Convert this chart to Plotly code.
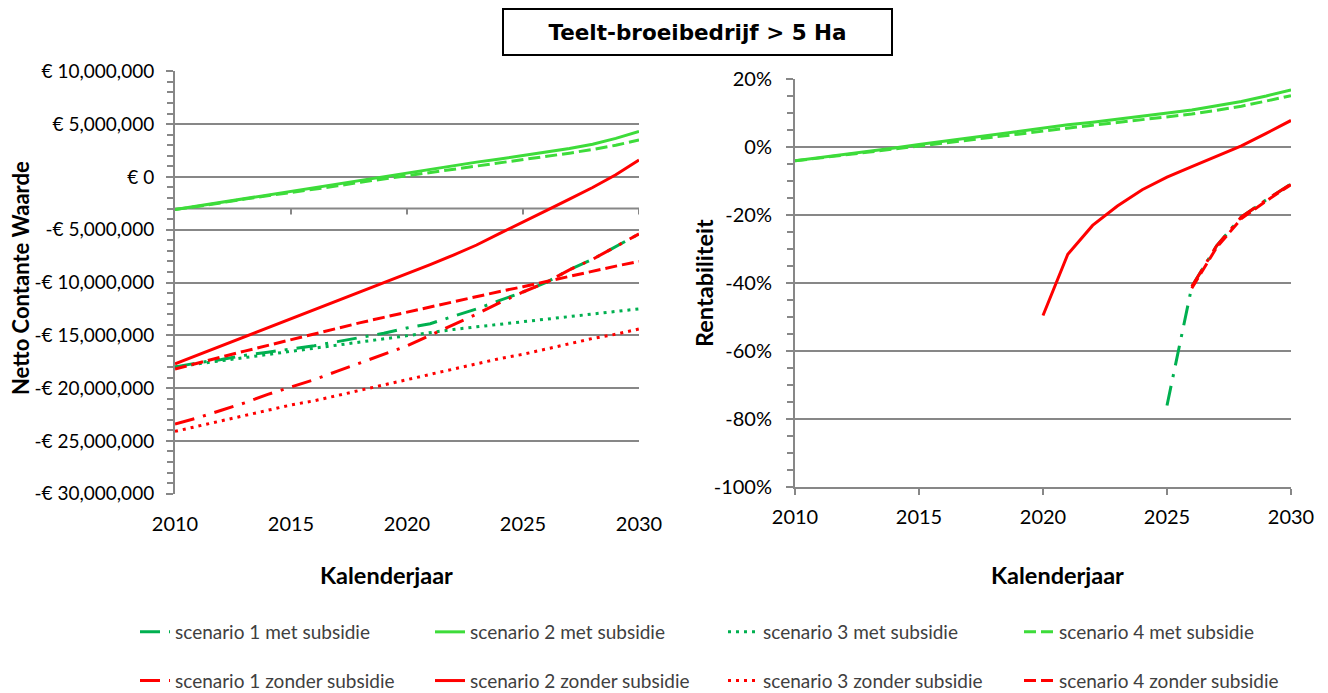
"""Teelt-broeibedrijf > 5 Ha: NCW en rentabiliteit per scenario."""

import plotly.graph_objects as go

# the page body adds an 8px margin, so the figure is a bit smaller than the window
PAGE_PAD = 8
W, H = 1328 - PAGE_PAD, 693 - PAGE_PAD

years = list(range(2010, 2031))
year_ticks = [2010, 2015, 2020, 2025, 2030]

# Netto Contante Waarde, in miljoen euro
ncw_s1_met = [-18.0, -17.6, -17.3, -16.9, -16.6, -16.3, -16.0, -15.6, -15.2, -14.8, -14.3,
              -13.9, -13.2, -12.5, -11.7, -10.9, -10.0, -8.8, -7.8, -6.6, -5.4]
ncw_s2_met = [-3.1, -2.75, -2.4, -2.05, -1.7, -1.35, -1.0, -0.65, -0.3, 0.05, 0.4,
              0.75, 1.05, 1.4, 1.7, 2.0, 2.35, 2.7, 3.1, 3.65, 4.3]
ncw_s3_met = [-18.0, -17.7, -17.4, -17.1, -16.8, -16.5, -16.2, -15.9, -15.6, -15.3, -15.0,
              -14.7, -14.45, -14.2, -13.95, -13.7, -13.45, -13.2, -12.95, -12.7, -12.5]
ncw_s4_met = [-3.1, -2.8, -2.45, -2.1, -1.8, -1.45, -1.15, -0.85, -0.5, -0.2, 0.1,
              0.4, 0.7, 1.0, 1.3, 1.6, 1.9, 2.25, 2.6, 3.0, 3.5]
ncw_s1_zonder = [-23.4, -22.8, -22.1, -21.4, -20.6, -19.9, -19.2, -18.4, -17.6, -16.8, -16.0,
                 -15.0, -14.0, -13.0, -11.9, -10.9, -10.0, -8.8, -7.8, -6.6, -5.4]
ncw_s2_zonder = [-17.7, -16.85, -16.0, -15.1, -14.25, -13.4, -12.55, -11.7, -10.9, -10.05, -9.2,
                 -8.3, -7.4, -6.45, -5.35, -4.3, -3.2, -2.1, -1.0, 0.2, 1.6]
ncw_s3_zonder = [-24.1, -23.6, -23.1, -22.6, -22.1, -21.6, -21.2, -20.7, -20.2, -19.7, -19.2,
                 -18.7, -18.2, -17.7, -17.2, -16.8, -16.3, -15.8, -15.3, -14.9, -14.4]
ncw_s4_zonder = [-18.2, -17.6, -17.05, -16.5, -15.95, -15.4, -14.85, -14.3, -13.8, -13.3, -12.8,
                 -12.3, -11.8, -11.3, -10.85, -10.4, -9.9, -9.4, -8.9, -8.45, -8.0]

# Rentabiliteit, in procent (None = geen waarde)
ren_s1_met = [None] * 15 + [-76.0, -41.0, -29.0, -20.5, -15.5, -10.8]
ren_s2_met = [-4.0, -3.1, -2.1, -1.1, -0.2, 0.8, 1.8, 2.8, 3.8, 4.8, 5.8,
              6.6, 7.4, 8.3, 9.2, 10.0, 11.0, 12.2, 13.5, 15.1, 16.9]
ren_s4_met = [-4.0, -3.2, -2.3, -1.4, -0.5, 0.4, 1.3, 2.2, 3.1, 4.0, 4.9,
              5.7, 6.5, 7.3, 8.1, 8.9, 9.8, 10.9, 12.1, 13.6, 15.2]
ren_s1_zonder = [None] * 16 + [-41.0, -29.0, -20.5, -15.5, -10.8]
ren_s2_zonder = [None] * 10 + [-49.5, -31.5, -23.0, -17.3, -12.5, -8.8, -5.7, -2.7, 0.4, 4.1, 7.9]
ren_s4_zonder = [None] * 16 + [-41.5, -29.5, -21.0, -15.8, -11.0]

ncw_ticks = [-30, -25, -20, -15, -10, -5, 0, 5, 10]
ncw_labels = ["-€ 30,000,000", "-€ 25,000,000", "-€ 20,000,000", "-€ 15,000,000",
              "-€ 10,000,000", "-€ 5,000,000", "€ 0", "€ 5,000,000", "€ 10,000,000"]
ren_ticks = [-100, -80, -60, -40, -20, 0, 20]
ren_labels = ["-100%", "-80%", "-60%", "-40%", "-20%", "0%", "20%"]

AXIS_CROSS = -3.0  # horizontal axis of the left chart crosses here

GREEN = "#3DDC3A"
DKGREEN = "#00B050"
RED = "#FF0000"
GRID = "#878787"
FONT = "Lato"

DASHDOT = "20px,9px,3px,9px"
DOTS = "3px,5px"
DASHES = "12px,5px"

series = [
    # name, ncw, rentabiliteit, colour, dash, legend column
    ("scenario 1 met subsidie", ncw_s1_met, ren_s1_met, DKGREEN, DASHDOT, "legend"),
    ("scenario 2 met subsidie", ncw_s2_met, ren_s2_met, GREEN, "solid", "legend2"),
    ("scenario 3 met subsidie", ncw_s3_met, None, DKGREEN, DOTS, "legend3"),
    ("scenario 4 met subsidie", ncw_s4_met, ren_s4_met, GREEN, DASHES, "legend4"),
    ("scenario 1 zonder subsidie", ncw_s1_zonder, ren_s1_zonder, RED, DASHDOT, "legend"),
    ("scenario 2 zonder subsidie", ncw_s2_zonder, ren_s2_zonder, RED, "solid", "legend2"),
    ("scenario 3 zonder subsidie", ncw_s3_zonder, None, RED, DOTS, "legend3"),
    ("scenario 4 zonder subsidie", ncw_s4_zonder, ren_s4_zonder, RED, DASHES, "legend4"),
]

fig = go.Figure()
for i, (name, ncw, ren, color, dash, leg) in enumerate(series):
    line = dict(color=color, width=3, dash=dash)
    fig.add_trace(go.Scatter(
        x=years, y=ncw, name=name, mode="lines", line=line,
        legend=leg, legendgroup=name, legendrank=i,
        xaxis="x", yaxis="y", hoverinfo="skip",
    ))
    if ren is not None:
        fig.add_trace(go.Scatter(
            x=years, y=ren, name=name, mode="lines", line=line,
            showlegend=False, legendgroup=name,
            xaxis="x2", yaxis="y2", hoverinfo="skip",
        ))


# screen pixel -> paper fraction
def px_x(p):
    return (p - PAGE_PAD) / W


def px_y(p):
    return 1 - (p - PAGE_PAD) / H


# plot areas in screen pixels
L_X0, L_X1, L_Y0, L_Y1 = 175, 639, 71, 494
R_X0, R_X1, R_Y0, R_Y1 = 795, 1291, 79, 487

tick_font = dict(family=FONT, size=20, color="#000")
title_font = dict(family=FONT, size=23.5, color="#000", weight="bold")
axis_common = dict(linecolor=GRID, linewidth=2, tickcolor=GRID, tickwidth=2,
                   zeroline=False, tickfont=tick_font, fixedrange=True)

fig.update_layout(
    width=W, height=H,
    margin=dict(l=0, r=0, t=0, b=0, autoexpand=False),
    paper_bgcolor="white", plot_bgcolor="white",
    showlegend=True,
    xaxis=dict(domain=[px_x(L_X0), px_x(L_X1)], anchor="y", range=[2010, 2030],
               tickmode="array", tickvals=year_ticks, showgrid=False, showline=False,
               ticks="", ticklabelstandoff=16, **axis_common),
    yaxis=dict(domain=[px_y(L_Y1), px_y(L_Y0)], anchor="x", range=[-30.03, 10.03],
               tickmode="array", tickvals=ncw_ticks, ticktext=ncw_labels,
               showgrid=True, gridcolor=GRID, gridwidth=2, showline=True,
               ticks="outside", ticklen=7, ticklabelstandoff=8,
               minor=dict(tick0=0, dtick=1, ticks="outside", ticklen=6,
                          tickcolor=GRID, tickwidth=1.5, showgrid=False),
               **{**axis_common, "tickfont": dict(family=FONT, size=19, color="#000")}),
    xaxis2=dict(domain=[px_x(R_X0), px_x(R_X1)], anchor="y2", range=[2010, 2030],
                tickmode="array", tickvals=year_ticks, showgrid=False, showline=True,
                ticks="outside", ticklen=6, ticklabelstandoff=5, **axis_common),
    yaxis2=dict(domain=[px_y(R_Y1), px_y(R_Y0)], anchor="x2", range=[-100, 20.1],
                tickmode="array", tickvals=ren_ticks, ticktext=ren_labels,
                showgrid=True, gridcolor=GRID, gridwidth=2, showline=True,
                ticks="outside", ticklen=7, ticklabelstandoff=10,
                minor=dict(tick0=0, dtick=5, ticks="outside", ticklen=6,
                           tickcolor=GRID, tickwidth=1.5, showgrid=False),
                **axis_common),
)

# horizontal axis of the left chart, drawn where it crosses the value axis
shapes = [dict(type="line", xref="x", yref="y", x0=years[0], x1=years[-1],
               y0=AXIS_CROSS, y1=AXIS_CROSS, layer="below",
               line=dict(color=GRID, width=2))]
for yr in year_ticks[1:]:
    shapes.append(dict(type="line", xref="x", yref="y", ysizemode="pixel",
                       yanchor=AXIS_CROSS, x0=yr, x1=yr, y0=0, y1=-6, layer="below",
                       line=dict(color=GRID, width=2)))
fig.update_layout(shapes=shapes)

# four legend columns, "met" on top and "zonder" below
legend_text_x = [178, 473, 766, 1062]
for key, tx in zip(["legend", "legend2", "legend3", "legend4"], legend_text_x):
    fig.update_layout({key: dict(
        x=px_x(tx - 43), y=px_y(613), xanchor="left", yanchor="top",
        orientation="v", tracegroupgap=21, bgcolor="rgba(0,0,0,0)",
        font=dict(family=FONT, size=19, color="#404040"),
    )})

annotations = [
    dict(text="Teelt-broeibedrijf > 5 Ha", x=px_x(697), y=px_y(32),
         font=dict(family="DejaVu Sans", size=21.5, color="#000", weight="bold"),
         width=387, height=44, bordercolor="#000", borderwidth=2, borderpad=0),
    dict(text="Netto Contante Waarde", x=px_x(20), y=px_y(278), textangle=-90,
         font=dict(family=FONT, size=22, color="#000", weight="bold")),
    dict(text="Rentabiliteit", x=px_x(704), y=px_y(283), textangle=-90, font=title_font),
    dict(text="Kalenderjaar", x=px_x(386), y=px_y(575), font=title_font),
    dict(text="Kalenderjaar", x=px_x(1057), y=px_y(575), font=title_font),
]
for a in annotations:
    a.update(xref="paper", yref="paper", showarrow=False, xanchor="center", yanchor="middle")
fig.update_layout(annotations=annotations)

fig.write_html("out.html")
